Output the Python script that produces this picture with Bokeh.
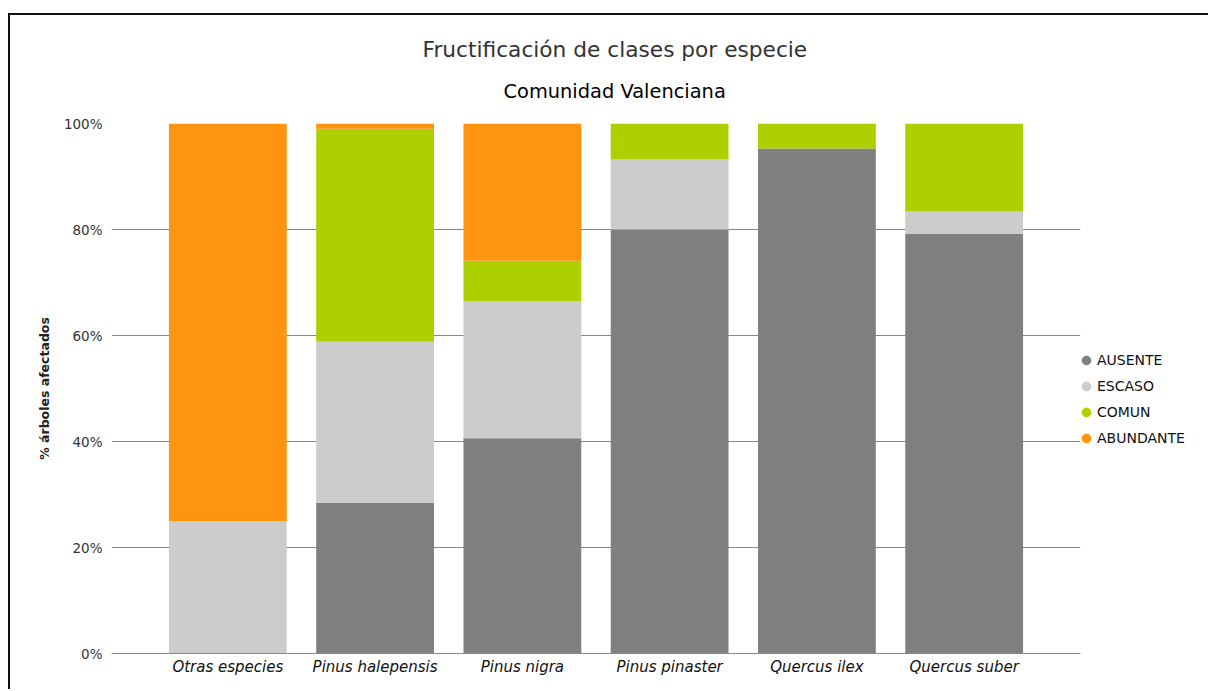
from bokeh.plotting import figure
from bokeh.models import (ColumnDataSource, FactorRange, Range1d, Legend, LegendItem,
                          Title, FixedTicker, PrintfTickFormatter)
from bokeh.embed import file_html
from bokeh.resources import INLINE

species = ["Otras especies", "Pinus halepensis", "Pinus nigra",
           "Pinus pinaster", "Quercus ilex", "Quercus suber"]
classes = ["AUSENTE", "ESCASO", "COMUN", "ABUNDANTE"]
ausente = [0.0, 28.4, 40.6, 80.0, 95.3, 79.2]
escaso = [25.0, 30.4, 25.9, 13.2, 0.0, 4.2]
comun = [0.0, 40.2, 7.6, 6.8, 4.7, 16.6]
abundante = [75.0, 1.0, 25.9, 0.0, 0.0, 0.0]
colors = ["#808080", "#cccccc", "#afd000", "#ff950e"]
y_ticks = [0, 20, 40, 60, 80, 100]

FONT = "DejaVu Sans"

source = ColumnDataSource(dict(species=species, AUSENTE=ausente, ESCASO=escaso,
                               COMUN=comun, ABUNDANTE=abundante))

p = figure(x_range=FactorRange(*species, range_padding=0.29, range_padding_units="absolute"),
           y_range=Range1d(0, 100),
           frame_width=969, frame_height=530, output_backend="svg", toolbar_location=None,
           min_border_left=101, min_border_right=128, min_border_top=108, min_border_bottom=36)
# outer chart border: only its top and left edges fall inside the window
p.styles = {"border-top": "2px solid #111", "border-left": "2px solid #111",
            "margin-top": "13px", "margin-left": "8px"}
p.outline_line_color = None
p.background_fill_color = "white"

p.vbar_stack(classes, x="species", width=0.8, color=colors, source=source, line_width=0)

# legend with round markers (proxy points placed below the visible range)
items = []
for name, col in zip(classes, colors):
    r = p.scatter(x=[species[0]], y=[-50], marker="circle", size=9, color=col)
    items.append(LegendItem(label=name, renderers=[r]))
legend = Legend(items=items, location=(-5, 204), orientation="vertical",
                margin=0, padding=0, spacing=4, glyph_width=22, glyph_height=22,
                label_height=20, label_standoff=0, border_line_color=None,
                background_fill_color=None, label_text_font=FONT,
                label_text_font_size="14px", label_text_color="#111")
p.add_layout(legend, "right")

# titles
sub = Title(text="Comunidad Valenciana", align="left", offset=392, standoff=41,
            text_font=FONT, text_font_size="19.4px", text_font_style="normal",
            text_color="#000")
main = Title(text="Fructificación de clases por especie", align="left", offset=311,
             standoff=-8, text_font=FONT, text_font_size="21.7px",
             text_font_style="normal", text_color="#333")
p.add_layout(sub, "above")
p.add_layout(main, "above")

# axes
p.yaxis.ticker = FixedTicker(ticks=y_ticks)
p.yaxis.formatter = PrintfTickFormatter(format="%d%%")
p.yaxis.axis_line_color = None
p.yaxis.major_tick_line_color = None
p.yaxis.minor_tick_line_color = None
p.yaxis.major_tick_out = 0
p.yaxis.major_label_standoff = 9
p.yaxis.major_label_text_font = FONT
p.yaxis.major_label_text_font_size = "13.5px"
p.yaxis.major_label_text_color = "#333"
p.yaxis.axis_label = "% árboles afectados"
p.yaxis.axis_label_text_font = FONT
p.yaxis.axis_label_text_font_size = "12.5px"
p.yaxis.axis_label_text_font_style = "bold"
p.yaxis.axis_label_text_color = "#222"
p.yaxis.axis_label_standoff = 9

p.xaxis.axis_line_color = "#888888"
p.xaxis.major_tick_line_color = None
p.xaxis.minor_tick_line_color = None
p.xaxis.major_tick_out = 0
p.xaxis.major_label_standoff = 4
p.xaxis.major_label_text_font = FONT
p.xaxis.major_label_text_font_size = "15px"
p.xaxis.major_label_text_font_style = "italic"
p.xaxis.major_label_text_color = "#111"

p.xgrid.grid_line_color = None
p.ygrid.grid_line_color = "#888888"
p.ygrid.grid_line_width = 1

open("out.html", "w").write(file_html(p, INLINE))
